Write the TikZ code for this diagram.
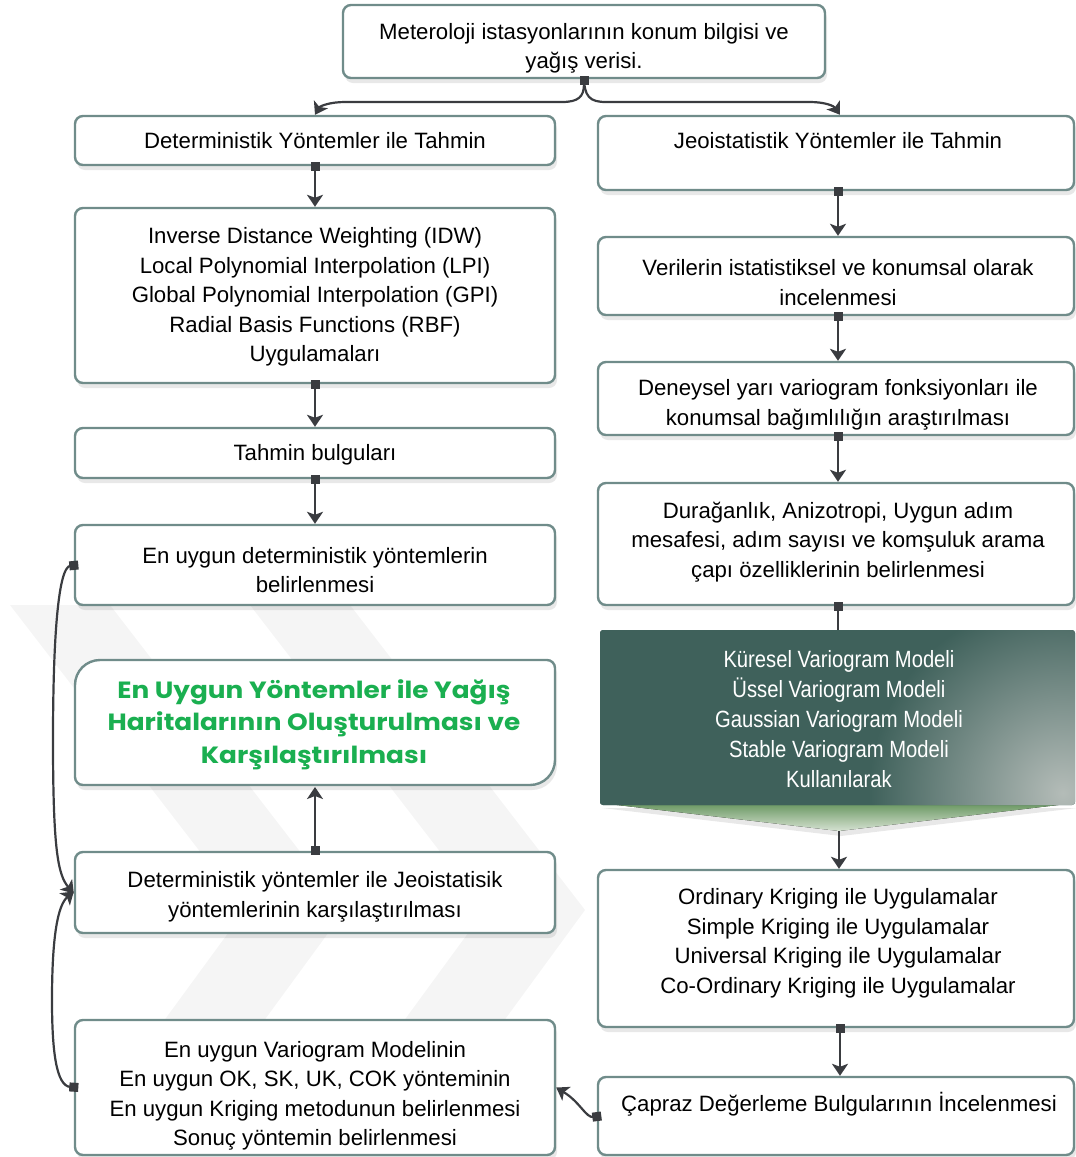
\documentclass[tikz,border=0pt]{standalone}
\usepackage{fontspec}
\setmainfont{Liberation Sans}
\newfontfamily\gfont{Poppins}[FakeStretch=1.12]
\newfontfamily\nfont{Liberation Sans}[FakeStretch=0.86]
\usetikzlibrary{arrows.meta,shadows}
\definecolor{bord}{RGB}{112,140,138}
\definecolor{arr}{RGB}{58,60,64}
\definecolor{dk}{RGB}{63,97,91}
\definecolor{dklight}{RGB}{180,188,184}
\definecolor{grn}{RGB}{26,175,80}
\definecolor{grnA}{RGB}{104,150,96}
\definecolor{grnB}{RGB}{214,226,210}
\definecolor{wm}{RGB}{245,245,245}
\pgfdeclareradialshading{darkglow}{\pgfpoint{0bp}{0bp}}{color(0bp)=(dklight); color(9bp)=(dk); color(50bp)=(dk)}
\newcommand{\fs}{\fontsize{22.2pt}{29.5pt}\selectfont}
\tikzset{
  box/.style={draw=bord, line width=2.4pt, fill=white, rounded corners=8pt,
    drop shadow={opacity=0.18, shadow xshift=2pt, shadow yshift=-5pt},
    inner sep=0pt},
  txt/.style={align=center, inner sep=0pt, font=\fs, text=black},
  conn/.style={draw=arr, line width=2.2pt, -{Stealth[length=12pt,width=16pt,inset=3pt]}},
  sqconn/.style={draw=arr, line width=2.2pt, {Square[length=9pt,width=9pt]}-{Stealth[length=12pt,width=16pt,inset=3pt]}},
  sqline/.style={draw=arr, line width=2.2pt, {Square[length=9pt,width=9pt]}-},
}
% name, cx, cy, w, h, tx, ty, text
\newcommand{\bx}[8]{%
  \node[box, minimum width=#4pt, minimum height=#5pt] (#1) at (#2,#3) {};
  \node[txt] (#1-t) at (#6,#7) {#8};}
\begin{document}
\begin{tikzpicture}[x=1pt,y=-1pt]
\useasboundingbox (0,0) rectangle (1076,1157);
% faint watermark chevrons
\fill[wm] (10,605) -- (110,605) -- (345,910) -- (195,1115) -- (95,1115) -- (245,910) -- cycle;
\fill[wm] (250,605) -- (350,605) -- (585,910) -- (435,1115) -- (335,1115) -- (485,910) -- cycle;

% left column
\bx{top}{584}{41.5}{482}{73}{584}{48.5}{Meteroloji istasyonlarının konum bilgisi ve\\yağış verisi.}
\bx{det}{315}{140.5}{480}{49}{315}{141}{Deterministik Yöntemler ile Tahmin}
\bx{idw}{315}{295.5}{480}{175}{315}{297}{Inverse Distance Weighting (IDW)\\Local Polynomial Interpolation (LPI)\\Global Polynomial Interpolation (GPI)\\Radial Basis Functions (RBF)\\Uygulamaları}
\bx{tah}{315}{453}{480}{50}{315}{455}{Tahmin bulguları}
\bx{ded}{315}{565}{480}{80}{315}{570}{En uygun deterministik yöntemlerin\\belirlenmesi}
% green box with two large corners
\draw[draw=bord, line width=2.4pt, fill=white,
  drop shadow={opacity=0.18, shadow xshift=2pt, shadow yshift=-5pt}]
  (100,660) -- (547,660) arc[start angle=-90, end angle=0, radius=8]
  -- (555,760) arc[start angle=0, end angle=90, radius=25]
  -- (83,785) arc[start angle=90, end angle=180, radius=8]
  -- (75,685) arc[start angle=180, end angle=270, radius=25] -- cycle;
\node[align=center, text=grn, font={\gfont\bfseries\fontsize{23.5pt}{32.5pt}\selectfont}] (gtext) at (314,724.5)
  {En Uygun Yöntemler ile Yağış\\Haritalarının Oluşturulması ve\\Karşılaştırılması};
\coordinate (gbot) at (315,787);
\bx{comp}{315}{892.5}{480}{81}{315}{897}{Deterministik yöntemler ile Jeoistatisik\\yöntemlerinin karşılaştırılması}
\bx{var}{315}{1087.5}{480}{135}{315}{1096}{En uygun Variogram Modelinin\\En uygun OK, SK, UK, COK yönteminin\\En uygun Kriging metodunun belirlenmesi\\Sonuç yöntemin belirlenmesi}

% right column
\bx{jeo}{836}{153}{476}{74}{838}{141}{Jeoistatistik Yöntemler ile Tahmin}
\bx{ver}{836}{276}{476}{78}{838}{282.5}{Verilerin istatistiksel ve konumsal olarak\\incelenmesi}
\bx{den}{836}{398.5}{476}{73}{838}{405}{Deneysel yarı variogram fonksiyonları ile\\konumsal bağımlılığın araştırılması}
\bx{dur}{836}{544}{476}{122}{838}{542}{Durağanlık, Anizotropi, Uygun adım\\mesafesi, adım sayısı ve komşuluk arama\\çapı özelliklerinin belirlenmesi}
% dark variogram box with chevron
\fill[top color=grnA, bottom color=grnB,
  drop shadow={opacity=0.18, shadow xshift=2pt, shadow yshift=-5pt}]
  (600,803) -- (1075,803) -- (839,831) -- cycle;
\node[fill=dk, minimum width=475pt, minimum height=175pt, inner sep=0pt,
  rounded corners=3pt,
  path picture={\shade[shading=darkglow]
    ([xshift=-12pt,yshift=12pt]path picture bounding box.south east) circle (540pt);}] (dark) at (837.5,717.5) {};
\node[align=center, text=white, inner sep=0pt,
  font={\nfont\fontsize{23.5pt}{30pt}\selectfont}] (dark-t) at (839,719)
  {Küresel Variogram Modeli\\Üssel Variogram Modeli\\Gaussian Variogram Modeli\\Stable Variogram Modeli\\Kullanılarak};
\coordinate (chev) at (839,831);
\bx{ord}{836}{948.5}{476}{157}{838}{943}{Ordinary Kriging ile Uygulamalar\\Simple Kriging ile Uygulamalar\\Universal Kriging ile Uygulamalar\\Co-Ordinary Kriging ile Uygulamalar}
\bx{cap}{836}{1116}{476}{78}{839}{1104}{Çapraz Değerleme Bulgularının İncelenmesi}

% connectors
\coordinate (split) at ([yshift=3pt]top.south);
\draw[sqconn] (split) .. controls (584,97) and (578,102) .. (562,102)
  -- (345,102) .. controls (330,102) and (320,106) .. (det.north);
\draw[conn] (split) .. controls (584,97) and (590,102) .. (606,102)
  -- (810,102) .. controls (825,102) and (834,106) .. ([xshift=4pt]jeo.north);
\draw[sqconn] ([yshift=4.5pt]det.south) -- (idw.north);
\draw[sqconn] ([yshift=4.5pt]idw.south) -- (tah.north);
\draw[sqconn] ([yshift=4.5pt]tah.south) -- (ded.north);
\draw[sqconn] ([xshift=2pt,yshift=4.5pt]jeo.south) -- ([xshift=2pt]ver.north);
\draw[sqconn] ([xshift=2pt,yshift=4.5pt]ver.south) -- ([xshift=2pt]den.north);
\draw[sqconn] ([xshift=2pt,yshift=4.5pt]den.south) -- ([xshift=2pt]dur.north);
\draw[sqline] ([xshift=2pt,yshift=4.5pt]dur.south) -- ([xshift=0.5pt]dark.north);
\draw[conn] (chev) -- ([xshift=3pt]ord.north);
\draw[sqconn] ([xshift=4pt,yshift=4.5pt]ord.south) -- ([xshift=4pt]cap.north);
\draw[sqconn] ([yshift=-4.5pt]comp.north) -- (gbot);
\draw[sqconn] ([xshift=4.5pt]cap.west) .. controls (586,1118) and (580,1102) .. (var.east);
\draw[sqconn] ([xshift=4.5pt]ded.west) .. controls (58,567) and (53,640) .. (53,740)
  .. controls (53,850) and (58,875) .. ([yshift=-1pt]comp.west);
\draw[sqconn] ([xshift=4.5pt]var.west) .. controls (56,1086) and (52,1050) .. (52,1000)
  .. controls (52,935) and (58,905) .. ([yshift=1pt]comp.west);
\end{tikzpicture}
\end{document}
